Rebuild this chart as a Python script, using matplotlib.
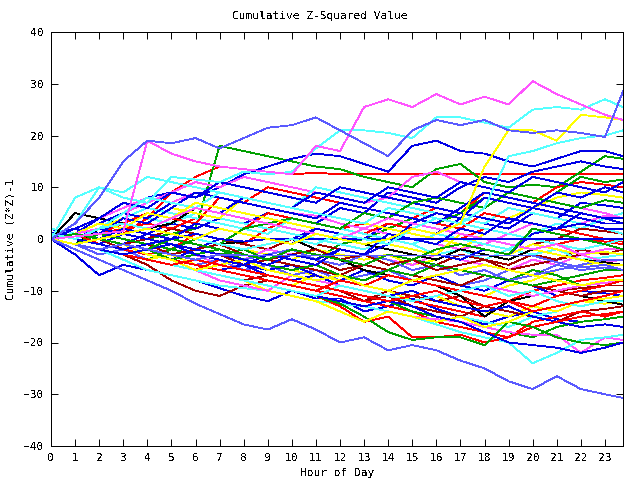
import matplotlib
matplotlib.use("Agg")
import matplotlib.pyplot as plt

hours = [0, 1, 2, 3, 4, 5, 6, 7, 8, 9, 10, 11, 12, 13, 14, 15, 16, 17, 18, 19, 20, 21, 22, 23, 23.75]
y_ticks = [-40, -30, -20, -10, 0, 10, 20, 30, 40]
x_ticks = list(range(24))

s01 = [0, -2, -4, -6, -8, -10, -12.5, -14.5, -16.5, -17.5, -15.5, -17.5, -20, -19, -21.5, -20.5, -21.5, -23.5, -25, -27.5, -29, -26.5, -29, -30, -30.7]
s02 = [0, 3, 8, 15, 19, 18.5, 19.5, 17.5, 19.5, 21.5, 22, 23.5, 21, 18.5, 16, 21, 23, 22, 23, 21, 20.5, 21, 20.5, 19.7, 28.5]
s03 = [0, 0.5, 1, 1.5, 19, 16.5, 15, 14, 13.5, 13, 12.5, 18, 17, 25.5, 27, 25.5, 28, 26, 27.5, 26, 30.5, 28, 26, 24, 23]
s04 = [0, 3, 10, 8, 7, 12, 11.5, 11, 13, 12.5, 13, 17.5, 21, 21, 20.5, 19.5, 23.5, 23.5, 22.5, 21.5, 25, 25.5, 25, 27, 25.5]
s05 = [1, 0, 2, 3, 2, 1, 0, -1, -2, -1, 0, -1, 1, 0, -1, 2, 4, 3, 6, 16, 17, 18.5, 19.5, 20, 21]
s06 = [0, -1, 0, 1, 2, 1, 0, 2, 1, 0, -1, 1, 0, -1, 0, 2, 1, 3, 14, 21, 21, 19, 24, 23.5, 23]
s07 = [0, 1, 4, 6, 8, 9, 8, 10, 12.5, 14, 15.5, 16.5, 16, 14.5, 13, 18, 19, 17, 16.5, 15, 14, 15.5, 17, 17, 16]
s08 = [0, -1, -2, -1, 0, 1, 2, 18, 17, 16, 15, 14, 13.5, 12, 11, 10, 13.5, 14.5, 11, 10, 10.5, 10, 13, 16, 15.5]
s09 = [0, 1, 0, 1, 4, 9, 12, 14, 13.5, 13, 12.5, 12.8, 12.5, 12.5, 12.5, 12.5, 12.5, 12.5, 12.5, 12.5, 12.5, 12.5, 12.5, 12.5, 12.5]
s10 = [1, 0, -1, -2, -1, 0, 1, 0, -0.5, 0, 0, 0, 0, 0, 0, 0, 0, 0, 0, 0, 0, 0, 0, 0, 0]
s11 = [0, -1, -2, -1, -2, -3, -4, -3, -3.2, -3.2, -3.2, -3.2, -3.2, -3.2, -3.2, -3.2, -3.2, -3.2, -3.2, -3.2, -3.2, -4.5, -5.5, -5, -6]
s12 = [0, -3, -7, -5, -6, -7, -8, -9.5, -11, -12, -10, -11.5, -11.5, -14, -13, -11.5, -13.5, -15, -16.5, -15, -14, -15.5, -16, -15.5, -15]
s13 = [1, 2, 0, -1, 1, 3, 2, 4, 3, 5, 4, 3, 6, 5, 9, 8, 7, 10, 12, 11, 13, 14, 15, 14, 13.5]
s14 = [0, -1, -2, -3, -4, -2, -3, -4, -5, -4, -3, -4, -1, 0, 2, 4, 3, 5, 8, 7, 6, 9, 12, 11, 11.5]
s15 = [0, 1, -1, -2, -3, -2, 1, 0, -1, 2, 4, 3, 2, 3, 2, 4, 6, 5, 9, 8, 7, 10, 11, 10.5, 10]
s16 = [0, 2, 1, 0, -1, -2, 0, -1, -2, -3, -4, -2, -3, -4, -3, -5, -4, -2, 1, 4, 6, 8, 9, 8.5, 8]
s17 = [2, 0, -1, 1, 0, -1, -2, 0, -1, -2, 0, 2, 1, 0, 3, 2, 1, 4, 3, 2, 5, 4, 7, 6.5, 6]
s18 = [0, 1, 3, 5, 4, 3, 5, 4, 3, 2, 1, 0, -1, -2, 0, -1, -3, -2, -4, -2, 1, 3, 2, 4, 5]
s19 = [0, 2, 4, 6, 8, 7, 9, 8, 7, 6, 5, 4.5, 3, 2, 1, 0, -1, -2, -1, 1, 3, 2, 3, 4.5, 4]
s20 = [0, -1, -2, -1, 0, 2, 1, 0, -1, -2, 0, -1, -2, -3, -1, -2, -3, -4, -2, -3, -1, 0, 2, 1.5, 1]
s21 = [0, -1, 1, 2, 3, 2, 4, 3, 2, 5, 4, 3, 2, 1, 3, 2, 1, 0, 2, 1, 0, -1, 0, -0.5, -1]
s22 = [1, 0, -1, -2, -3, -4, -3, -2, -4, -5, -3, -4, -6, -5, -3, -4, -5, -3, -4, -5, -3, -4, -2, -3, -2]
s23 = [0, 1, 2, 4, 6, 5, 4, 3, 2, 1, 4, 3, 2, 1, 0, -1, 1, 0, -1, -2, -3, -2, -4, -3.5, -3]
s24 = [0, -1, -2, -3, -2, -4, -3, -5, -4, -2, -3, -4, -2, -3, -4, -5, -3, -4, -5, -6, -4, -5, -3, -4.5, -4]
s25 = [1, 0, 2, 1, 0, -1, -2, -3, -4, -5, -6, -7, -8, -6, -7, -8, -9, -10, -11, -9, -8, -6, -5, -4.5, -5]
s26 = [0, -1, -3, -2, -4, -3, -5, -4, -6, -5, -7, -6, -8, -7, -6, -8, -7, -9, -8, -6, -7, -5, -6, -5.5, -6]
s27 = [0, -1, -2, -3, -4, -5, -6, -4, -5, -6, -7, -8, -9, -10, -11, -12, -13, -14, -15, -12, -10, -9, -8, -7.5, -7]
s28 = [0, 1, 0, -1, -2, -3, -4, -3, -2, -4, -5, -6, -7, -5, -6, -4, -5, -6, -7, -8, -6, -7, -9, -8.5, -8]
s29 = [0, -1, -2, -3, -5, -8, -10, -11, -9, -8, -9, -10, -11, -12, -10, -11, -12, -11, -13, -12, -11, -10, -9.5, -9, -9]
s30 = [2, 1, 0, -1, -2, -3, -4, -5, -6, -7, -8, -9, -10, -11, -12, -13, -14, -15, -16, -17, -15, -14, -12, -11, -10]
s31 = [0, -1, -2, -1, -3, -4, -2, -3, -5, -6, -5, -7, -8, -6, -8, -9, -7, -9, -10, -8, -9, -11, -10, -10.5, -11]
s32 = [0, -1, -2, -3, -4, -3, -5, -6, -7, -8, -9, -7, -8, -9, -10, -12, -11, -13, -14, -15, -13, -14, -12, -12.5, -12]
s33 = [0, -1, 2, 1, 0, -1, -2, -1, -0.5, 0, 0, -2, -4, -6, -7, -8, -9, -11, -15, -12, -11, -10, -11, -12, -12.7]
s34 = [0, 5, 4, 3, 2, 3, 6, 5, 4, 3, 2, 1, 0, -1, -2, -3, -4, -2, -3, -4, -2, -3, -4, -4.5, -5]
s35 = [0, -1, -2, -3, -4, -5, -6, -7, -8, -7, -8, -9, -10, -12, -11, -13, -14, -15, -13, -14, -15, -16, -14, -13.5, -13]
s36 = [1, 0, -1, -2, -3, -4, -5, -6, -7, -8, -9, -10, -11, -12, -13, -14, -16, -17, -18, -19, -16, -15, -14, -15, -14]
s37 = [0, -1, -2, -3, -4, -5, -6, -7, -8, -9, -10, -11, -12, -13, -12, -14, -15, -16, -17, -18, -19, -17, -16, -15.5, -15]
s38 = [0, -1, -2, -3, -4, -5, -6, -7, -8, -9, -10, -11, -12, -13, -14, -15, -15.5, -16, -17, -18, -18.5, -18.5, -22, -19, -19.5]
s39 = [0, -1, -2, -3, -2, -4, -5, -6, -5, -7, -8, -7, -9, -10, -11, -10, -12, -13, -14, -13, -15, -16, -17, -16.5, -17]
s40 = [0, -1, -2, -4, -6, -7, -8, -9, -9.5, -10, -11, -12, -12.5, -13, -14, -15, -16.5, -18, -19, -20, -24, -22, -19.5, -19, -18.5]
s41 = [0, -1, -2, -3, -4, -5, -6, -7, -8, -9, -10, -11, -13, -16, -15, -19, -19, -18.5, -20, -19, -17, -16, -15, -14.5, -14]
s42 = [0, -1, -2, -3, -4, -5, -6, -7, -8, -9, -10, -11, -12.5, -15, -18, -19.5, -19, -19, -20.5, -16, -17, -19, -20, -20.5, -20]
s43 = [0, -1, -2, -3, -4, -5, -6, -7, -8, -10, -11, -12, -14, -16, -14, -15, -16, -15, -17, -16, -14, -13, -12, -11.5, -11]
s44 = [0, -1, -2, -3, -4, -5, -6, -7, -8, -9, -10, -11, -12, -13, -12, -13, -15, -16, -18, -20, -20.5, -21, -22, -21, -20]
s45 = [0, 1, 3, 5, 7, 9, 11, 10, 12, 11, 10, 9, 8, 7, 8, 12, 13, 11, 10, 9, 8, 7, 6, 5, 4]
s46 = [0, 8, 10, 9, 12, 11, 10, 9, 8, 7, 6, 10, 9, 8, 7, 6, 5, 4, 3, 6, 5, 4, 3, 2, 1]
s47 = [0, 2, 1, 3, 5, 4, 3, 8, 7, 10, 9, 8, 7, 6, 5, 4, 3, 2, 5, 4, 3, 2, 1, 0, -0.5]
s48 = [0, 2, 4, 7, 6, 9, 8, 11, 10, 9, 8, 7, 10, 9, 8, 7, 6, 5, 4, 3, 6, 5, 4, 3, 3]
s49 = [0, 1, 2, 4, 3, 6, 5, 4, 8, 7, 6, 5, 4, 3, 2, 1, 0, -1, -2, -3, -1, -2, -3, -2.5, -3]
s50 = [0, -1, 1, 0, -1, -2, 0, -1, 2, 3, 4, 3, 2, 5, 4, 7, 8, 7, 6, 9, 8, 7, 6, 7.5, 7]
s51 = [0, 1, 0, -1, -2, -3, -2, -1, -3, -4, -5, -6, -7, -5, -6, -7, -8, -9, -7, -8, -9, -10, -11, -10, -10]
s52 = [0, -1, -2, -3, -4, -5, -6, -8, -9, -10, -7, -8, -9, -10, -11, -12, -11, -10, -9, -10, -11, -10, -9, -8.5, -8]
s53 = [0, -1, 0, -1, -2, -1, -3, -2, -4, -3, -2, -4, -5, -3, -4, -6, -5, -7, -6, -8, -7, -6, -5, -4, -4]
s54 = [0, 1, -1, -2, -3, -4, -5, -6, -7, -8, -9, -10, -8, -9, -7, -8, -9, -10, -11, -12, -13, -11, -10, -9, -8]
s55 = [0, -1, -2, -3, -2, -4, -3, -2, -4, -5, -6, -5, -7, -8, -6, -7, -5, -6, -7, -8, -9, -8, -7, -6, -6]
s56 = [0, -1, -2, -3, -4, -5, -6, -7, -8, -9, -10, -11, -9, -10, -11, -12, -11, -10, -9, -11, -10, -12, -13, -12, -12]
s57 = [0, -1, 0, -2, -1, -3, -4, -3, -5, -4, -3, -2, -4, -3, -5, -4, -6, -5, -4, -6, -5, -4, -3, -2, -2]
s58 = [0, -1, -2, -1, -3, -4, -6, -5, -4, -6, -7, -8, -7, -9, -10, -8, -7, -6, -5, -6, -7, -8, -9, -8, -8]
s59 = [0, 1, 2, 1, 0, -1, -2, -3, -4, -5, -3, -4, -2, -3, -1, -2, -3, -4, -2, -3, 1, 2, 3, 2, 2]
s60 = [0, -1, -2, -3, -4, -5, -4, -5, -6, -7, -8, -9, -10, -11, -12, -11, -10, -12, -13, -12, -14, -13, -12, -11, -10]
s61 = [0, 1, 3, 5, 4, 7, 6, 5, 8, 7, 6, 9, 8, 7, 10, 9, 8, 11, 10, 9, 12, 11, 10, 9, 11]
s62 = [0, 2, 1, 4, 3, 6, 9, 8, 7, 6, 5, 4, 7, 6, 5, 4, 3, 6, 9, 8, 7, 6, 5, 4, 3]
s63 = [0, 1, 2, 5, 8, 7, 6, 9, 8, 7, 6, 5, 4, 3, 6, 5, 4, 3, 2, 1, 0, -1, -2, -1, 0]
s64 = [0, 1, 3, 2, 5, 4, 7, 6, 5, 4, 3, 2, 1, 0, -1, -2, -3, 1, 0, -1, -2, -3, -4, -5, -5]
s65 = [0, -1, 0, 2, 1, 0, 3, 2, 1, 0, -1, 2, 1, 0, -1, 3, 5, 4, 8, 7, 6, 9, 8, 10, 9]
s66 = [0, 1, 2, 3, 2, 4, 6, 5, 4, 3, 2, 1, 0, 2, 4, 3, 2, 1, 0, -1, -2, -1, -3, -2, -2]
s67 = [0, -1, -2, -3, -2, -1, -3, -4, -5, -3, -4, -5, -2, -3, 1, 0, -1, 2, 1, 4, 3, 2, 5, 4, 4]
s68 = [0, 1, 0, -1, -2, 0, -1, -2, -3, -4, -2, -3, -4, -5, -3, -4, -2, -1, -2, -3, 2, 1, 0, -1, -2]

RED, GRN, BLU, MAG, CYN, DRD, YEL, BLK, LBL = ("#ff0000", "#00a000", "#0000e6", "#ff55ff",
                                               "#55ffff", "#a00000", "#ffff00", "#000000", "#5a5aff")

series = [s09, s08, s07, s12, s15, s14, s13, s17, s16, s18, s19, s20, s21, s22, s23, s24, s25,
          s26, s27, s28, s29, s30, s31, s32, s33, s34, s35, s36, s37, s38, s39, s40, s41, s42,
          s43, s44, s45, s46, s47, s48, s49, s50, s51, s52, s53, s54, s55, s56, s57, s58, s59,
          s60, s61, s62, s63, s64, s65, s66, s67, s68, s10, s11, s05, s06, s04, s03, s02, s01]
colors = [RED, GRN, BLU, BLU, RED, GRN, BLU, BLU, YEL, CYN, MAG, DRD, RED, DRD, CYN, MAG, YEL,
          LBL, RED, GRN, DRD, CYN, BLU, YEL, BLK, BLK, DRD, RED, GRN, MAG, BLU, CYN, RED, GRN,
          YEL, BLU, MAG, CYN, RED, BLU, YEL, GRN, DRD, MAG, LBL, RED, GRN, CYN, DRD, YEL, BLU,
          RED, BLU, BLU, CYN, YEL, BLU, MAG, BLU, GRN, BLU, LBL, CYN, YEL, CYN, MAG, LBL, LBL]

plt.rcParams["font.family"] = ["DejaVu Sans Mono"]
plt.rcParams["text.antialiased"] = False

fig = plt.figure(figsize=(6.4, 4.8), dpi=100)
ax = fig.add_axes([51 / 640, 34 / 480, 572 / 640, 414 / 480])

for vals, col in zip(series, colors):
    ax.plot(hours, vals, color=col, lw=0.6, antialiased=False)

ax.set_xlim(0, 23.75)
ax.set_ylim(-40, 40)
ax.set_xticks(x_ticks)
ax.set_yticks(y_ticks)
ax.tick_params(direction="in", length=5, width=0.7, top=True, right=True,
               labelsize=8, pad=5, colors="black")
for sp in ax.spines.values():
    sp.set_linewidth(0.7)
    sp.set_antialiased(False)

fig.text(0.5, 1 - 16 / 480, "Cumulative Z-Squared Value", ha="center", va="center", fontsize=8)
ax.set_xlabel("Hour of Day", fontsize=8, labelpad=4)
ax.set_ylabel("Cumulative (Z*Z)-1", fontsize=8, labelpad=6)

fig.savefig("out.png", dpi=100)
